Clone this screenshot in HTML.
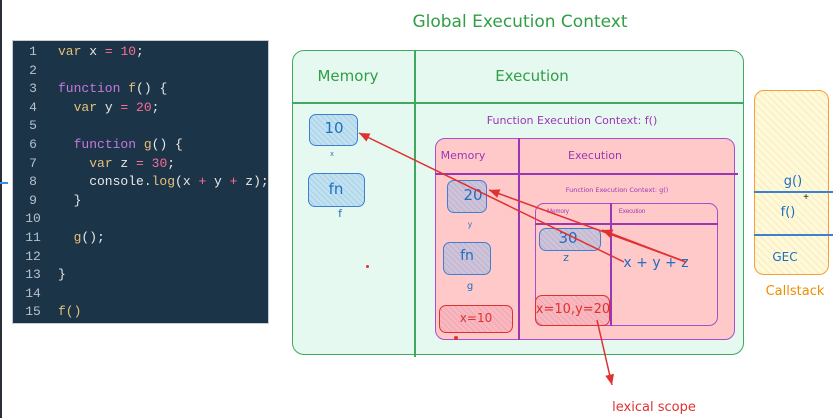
<!DOCTYPE html>
<html><head><meta charset="utf-8"><style>
*{margin:0;padding:0;box-sizing:border-box}
body{width:833px;height:418px;position:relative;background:#fff;overflow:hidden;font-family:"Liberation Sans","DejaVu Sans",sans-serif}
.a{position:absolute}
.t{position:absolute;white-space:nowrap;transform:translateX(-50%)}
#code{left:12px;top:40px;width:257px;height:284px;background:#1c3447;border:1px solid #c8ccd0;font-family:"Liberation Mono","DejaVu Sans Mono",monospace;font-size:13px}
#code .ln{position:absolute;left:2px;width:36px;text-align:center;color:#b8c0c8}
#code .c{position:absolute;left:45px;color:#e8e8e8;white-space:pre}
.k{color:#c678dd}.v{color:#e5c07b}.n{color:#ff6b9a}.f{color:#e5c07b}
.box{position:absolute;border:1.5px solid;border-radius:7px;background-image:repeating-linear-gradient(45deg,rgba(80,130,200,.18) 0 1px,transparent 1px 4px)}
.blue{border-color:#3d7fd1;background-color:rgba(120,180,240,.35)}
.redb{border-color:#e03131;background-color:rgba(255,160,170,.45)}
.hand{font-family:"DejaVu Sans","Liberation Sans",sans-serif}
</style></head><body>
<div class="a" style="left:0;top:0;width:2px;height:418px;background:#2a2f3a"></div>
<div class="a" style="left:0;top:182px;width:8px;height:2px;background:#3d8fe0"></div>

<div id="code" class="a">
<div class="ln" style="top:3px">1</div><div class="c" style="top:3px"><span class="v">var</span> x <span class="n">=</span> <span class="n">10</span>;</div>
<div class="ln" style="top:21.6px">2</div>
<div class="ln" style="top:40.2px">3</div><div class="c" style="top:40.2px"><span class="k">function</span> <span class="f">f</span>() {</div>
<div class="ln" style="top:58.8px">4</div><div class="c" style="top:58.8px">  <span class="v">var</span> y <span class="n">=</span> <span class="n">20</span>;</div>
<div class="ln" style="top:77.4px">5</div>
<div class="ln" style="top:96px">6</div><div class="c" style="top:96px">  <span class="k">function</span> <span class="f">g</span>() {</div>
<div class="ln" style="top:114.6px">7</div><div class="c" style="top:114.6px">    <span class="v">var</span> z <span class="n">=</span> <span class="n">30</span>;</div>
<div class="ln" style="top:133.2px">8</div><div class="c" style="top:133.2px">    console.<span class="f">log</span>(x <span class="n">+</span> y <span class="n">+</span> z);</div>
<div class="ln" style="top:151.8px">9</div><div class="c" style="top:151.8px">  }</div>
<div class="ln" style="top:170.4px">10</div>
<div class="ln" style="top:189px">11</div><div class="c" style="top:189px">  <span class="f">g</span>();</div>
<div class="ln" style="top:207.6px">12</div>
<div class="ln" style="top:226.2px">13</div><div class="c" style="top:226.2px">}</div>
<div class="ln" style="top:244.8px">14</div>
<div class="ln" style="top:263.4px">15</div><div class="c" style="top:263.4px"><span class="f">f()</span></div>
</div>

<div class="t hand" style="left:520px;top:12px;font-size:17px;color:#2f9e44">Global Execution Context</div>

<div class="a" style="left:292px;top:50px;width:452px;height:305px;background:#e5f9f0;border:1.5px solid #40a860;border-radius:12px"></div>
<div class="a" style="left:292px;top:102px;width:452px;height:1.5px;background:#40a860"></div>
<div class="a" style="left:414px;top:50px;width:1.5px;height:307px;background:#40a860"></div>
<div class="t hand" style="left:348px;top:67px;font-size:15px;color:#2f9e44">Memory</div>
<div class="t hand" style="left:532px;top:67px;font-size:15px;color:#2f9e44">Execution</div>
<div class="box blue" style="left:309px;top:114px;width:49px;height:32px"></div>
<div class="t hand" style="left:334px;top:119px;font-size:15px;color:#1f6fc0">10</div>
<div class="t" style="left:332px;top:151px;font-size:7px;color:#1f6fc0">x</div>
<div class="box blue" style="left:308px;top:173px;width:57px;height:34px"></div>
<div class="t hand" style="left:336px;top:180px;font-size:15px;color:#1f6fc0">fn</div>
<div class="t hand" style="left:340px;top:207px;font-size:11px;color:#1f6fc0">f</div>
<div class="a" style="left:366px;top:265px;width:3px;height:3px;background:#e03131;border-radius:50%"></div>

<div class="t hand" style="left:572px;top:114px;font-size:11px;color:#9c36b5">Function Execution Context: f()</div>
<div class="a" style="left:435px;top:138px;width:300px;height:202px;background:#ffc9c9;border:1.5px solid #a64fc8;border-radius:10px"></div>
<div class="a" style="left:435px;top:173px;width:303px;height:1.5px;background:#9c36b5"></div>
<div class="a" style="left:518px;top:138px;width:1.5px;height:202px;background:#9c36b5"></div>
<div class="t hand" style="left:463px;top:149px;font-size:11px;color:#9c36b5">Memory</div>
<div class="t hand" style="left:595px;top:149px;font-size:11px;color:#9c36b5">Execution</div>
<div class="box blue" style="left:447px;top:180px;width:40px;height:33px"></div>
<div class="t hand" style="left:473px;top:186px;font-size:15px;color:#1f6fc0">20</div>
<div class="t" style="left:470px;top:220px;font-size:8px;color:#1f6fc0">y</div>
<div class="box blue" style="left:443px;top:242px;width:48px;height:33px"></div>
<div class="t hand" style="left:467px;top:248px;font-size:14px;color:#1f6fc0">fn</div>
<div class="t hand" style="left:470px;top:281px;font-size:10px;color:#1f6fc0">g</div>
<div class="box redb" style="left:439px;top:305px;width:74px;height:28px"></div>
<div class="t hand" style="left:476px;top:311px;font-size:12px;color:#e03131">x=10</div>
<div class="a" style="left:454px;top:336px;width:4px;height:4px;background:#e03131;border-radius:50%"></div>

<div class="t hand" style="left:617px;top:186px;font-size:6.5px;color:#9c36b5">Function Execution Context: g()</div>
<div class="a" style="left:535px;top:203px;width:183px;height:123px;border:1.5px solid #a64fc8;border-radius:9px"></div>
<div class="a" style="left:535px;top:223px;width:183px;height:1.5px;background:#9c36b5"></div>
<div class="a" style="left:610px;top:203px;width:1.5px;height:123px;background:#9c36b5"></div>
<div class="t" style="left:558px;top:209px;font-size:6px;color:#9c36b5">Memory</div>
<div class="t" style="left:632px;top:209px;font-size:6px;color:#9c36b5">Execution</div>
<div class="box blue" style="left:539px;top:228px;width:62px;height:23px"></div>
<div class="t hand" style="left:568px;top:229px;font-size:15px;color:#1f6fc0">30</div>
<div class="t hand" style="left:566px;top:251px;font-size:11px;color:#1f6fc0">z</div>
<div class="box redb" style="left:535px;top:295px;width:75px;height:31px"></div>
<div class="t hand" style="left:573px;top:302px;font-size:13px;color:#e03131">x=10,y=20</div>
<div class="t hand" style="left:656px;top:255px;font-size:14px;color:#1f6fc0">x + y + z</div>

<div class="a" style="left:754px;top:90px;width:75px;height:185px;border:1.5px solid #f59f3a;border-radius:10px;background:#fff9db;background-image:repeating-linear-gradient(45deg,rgba(240,210,110,.35) 0 1px,transparent 1px 5px)"></div>
<div class="a" style="left:754px;top:191px;width:79px;height:1.5px;background:#3d7fd1"></div>
<div class="a" style="left:754px;top:234px;width:79px;height:1.5px;background:#3d7fd1"></div>
<div class="t hand" style="left:793px;top:174px;font-size:13px;color:#1f6fc0">g()</div>
<div class="t" style="left:806px;top:192px;font-size:10px;color:#222">+</div>
<div class="t hand" style="left:788px;top:205px;font-size:13px;color:#1f6fc0">f()</div>
<div class="t hand" style="left:785px;top:250px;font-size:12px;color:#1f6fc0">GEC</div>
<div class="t hand" style="left:795px;top:284px;font-size:13px;color:#f08c00">Callstack</div>

<div class="t hand" style="left:654px;top:400px;font-size:13px;color:#e03131">lexical scope</div>

<svg class="a" style="left:0;top:0" width="833" height="418">
<defs><marker id="ah" markerWidth="8" markerHeight="8" refX="7" refY="4" orient="auto"><path d="M0,1 L7,4 L0,7 Z" fill="#e03131"/></marker></defs>
<g stroke="#e03131" stroke-width="1.5" fill="none">
<line x1="624" y1="262" x2="359" y2="133" marker-end="url(#ah)"/>
<line x1="686" y1="262" x2="489" y2="190" marker-end="url(#ah)"/>
<line x1="686" y1="262" x2="602" y2="230" marker-end="url(#ah)"/>
<line x1="597" y1="320" x2="612" y2="385" marker-end="url(#ah)"/>
</g>
</svg>
</body></html>
